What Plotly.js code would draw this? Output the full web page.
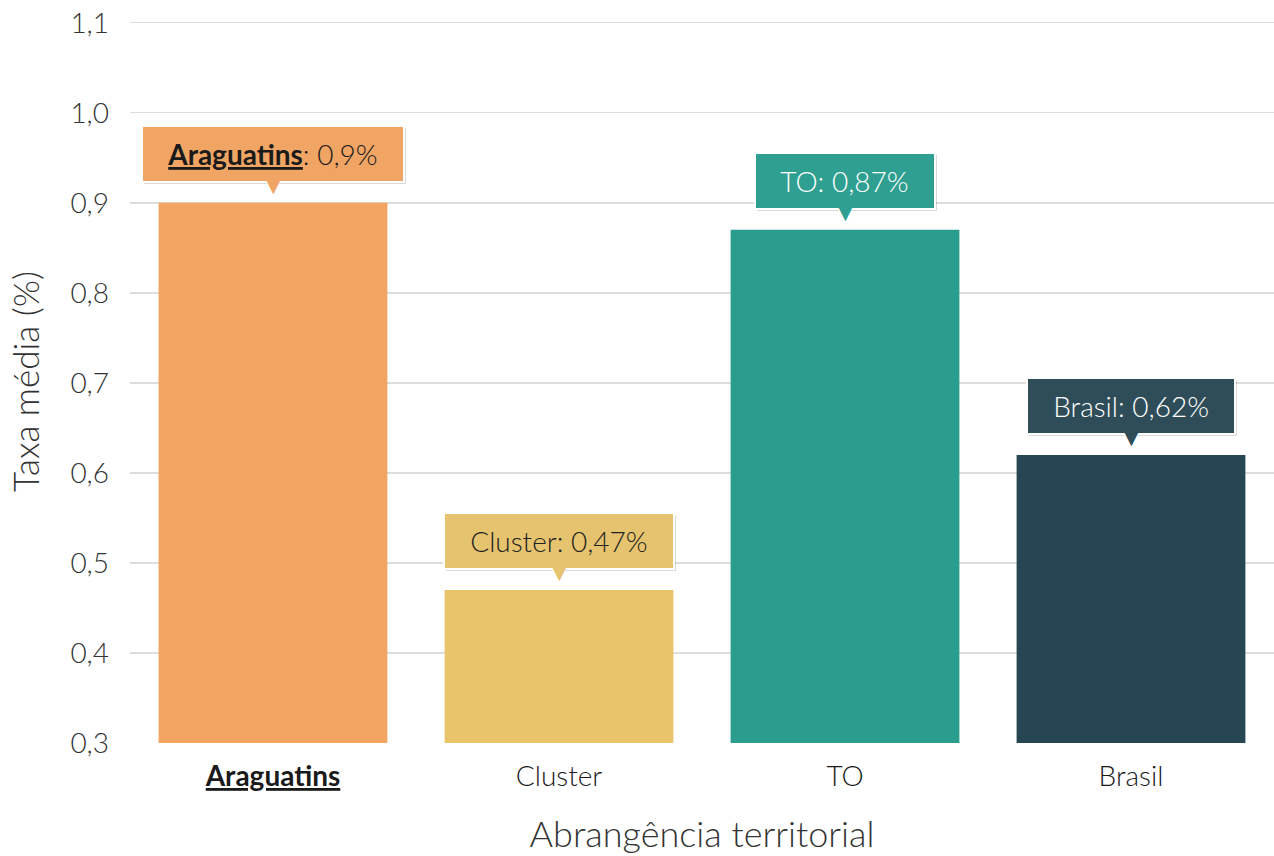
<!DOCTYPE html>
<html><head><meta charset="utf-8">
<script src="https://cdn.plot.ly/plotly-3.0.1.min.js"></script>
<style>body{margin:0;background:#fff}#c{width:1274px;height:856px}</style>
</head><body><div id="c"></div>
<script>
const categories = ["Araguatins", "Cluster", "TO", "Brasil"];
const tickLabels = ["<b><u>Araguatins</u></b>", "Cluster", "TO", "Brasil"];
const values = [0.9, 0.47, 0.87, 0.62];
const valueLabels = ["0,9%", "0,47%", "0,87%", "0,62%"];
const labelNames = ["<b><u>Araguatins</u></b>", "Cluster", "TO", "Brasil"];
const barColors = ["#F2A462", "#E8C46B", "#2A9D8F", "#264653"];
const boxColors = ["#F0A564", "#E6C36E", "#2E9F91", "#2E4D58"];
const textColors = ["#1a1a1a", "#222222", "#ffffff", "#ffffff"];

const FONT = "Lato, 'Open Sans', sans-serif";
const SP = "&nbsp;&nbsp;";

const annotations = [];
categories.forEach((c, i) => {
  const txt = SP + labelNames[i] + ": " + valueLabels[i] + SP;
  // shadow
  annotations.push({
    x: c, y: values[i], xref: "x", yref: "y", showarrow: false,
    yanchor: "bottom", yshift: 18, xshift: 2,
    text: txt,
    font: {family: FONT, size: 28, color: "rgba(0,0,0,0)", weight: 300},
    bgcolor: "rgba(0,0,0,0.15)", bordercolor: "rgba(0,0,0,0)", borderwidth: 2, borderpad: 10
  });
  // pointer (white outline)
  annotations.push({
    x: c, y: values[i], xref: "x", yref: "y", showarrow: false,
    yanchor: "bottom", yshift: -2,
    text: "▼", font: {family: "DejaVu Sans", size: 30, color: "#ffffff"}
  });
  // box
  annotations.push({
    x: c, y: values[i], xref: "x", yref: "y", showarrow: false,
    yanchor: "bottom", yshift: 20,
    text: txt,
    font: {family: FONT, size: 28, color: textColors[i], weight: 300},
    bgcolor: boxColors[i], bordercolor: "#ffffff", borderwidth: 2, borderpad: 10
  });
  // pointer fill
  annotations.push({
    x: c, y: values[i], xref: "x", yref: "y", showarrow: false,
    yanchor: "bottom", yshift: 1,
    text: "▼", font: {family: "DejaVu Sans", size: 25, color: boxColors[i]}
  });
});

const trace = {
  type: "bar", x: categories, y: values,
  marker: {color: barColors},
  hoverinfo: "skip"
};

const layout = {
  width: 1274, height: 856,
  margin: {l: 130, r: 0, t: 20, b: 113},
  paper_bgcolor: "#ffffff", plot_bgcolor: "#ffffff",
  bargap: 0.2,
  showlegend: false,
  font: {family: FONT, weight: 300, color: "#333"},
  xaxis: {
    type: "category",
    tickvals: categories, ticktext: tickLabels,
    tickfont: {family: FONT, size: 28, color: "#1a1a1a", weight: 300},
    ticklabelstandoff: 14,
    showgrid: false, showline: false, ticks: "",
    title: {text: "Abrangência territorial", font: {family: FONT, size: 36, color: "#333", weight: 300}, standoff: 30}
  },
  yaxis: {
    range: [0.3, 1.103], dtick: 0.1, tick0: 0.3,
    tickformat: ".1f",
    tickfont: {family: FONT, size: 28, color: "#333", weight: 300},
    ticklabelstandoff: 20,
    showgrid: true, gridcolor: "#dddddd", gridwidth: 1.5,
    zeroline: false, showline: false, ticks: "",
    title: {text: "Taxa média (%)", font: {family: FONT, size: 35, color: "#333", weight: 300}, standoff: 20}
  },
  separators: ",.",
  annotations: annotations
};

Plotly.newPlot("c", [trace], layout, {displayModeBar: false, staticPlot: true});
</script>
</body></html>
